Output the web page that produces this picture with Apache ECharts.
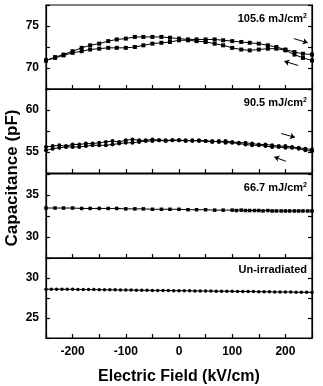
<!DOCTYPE html>
<html>
<head>
<meta charset="utf-8">
<script src="https://cdn.jsdelivr.net/npm/echarts@6/dist/echarts.min.js"></script>
<style>
  html, body { margin: 0; padding: 0; background: #fff; }
  #chart { width: 323px; height: 386px; }
</style>
</head>
<body>
<div id="chart"></div>
<script>
// x grids (kV/cm)
const fieldA = [-250,-233,-217,-200,-183,-167,-150,-133,-117,-100,-83,-67,-50,-33,-17,0,17,33,50,67,83,100,117,133,150,167,183,200,217,233,250];
const fieldB = [-250,-237.5,-225,-212.5,-200,-187.5,-175,-162.5,-150,-137.5,-125,-112.5,-100,-87.5,-75,-62.5,-50,-37.5,-25,-12.5,0,12.5,25,37.5,50,62.5,75,87.5,100,112.5,125,137.5,150,162.5,175,187.5,200,212.5,225,237.5,250];
const fieldC = [-250,-240,-230,-220,-210,-200,-190,-180,-170,-160,-150,-140,-130,-120,-110,-100,-90,-80,-70,-60,-50,-40,-30,-20,-10,0,10,20,30,40,50,60,70,80,90,100,110,120,130,140,150,160,170,180,190,200,210,220,230,240,250];
const field3back = [108,125,142,158,175,192,208,225,242];

// 105.6 mJ/cm2
const cap1Up = [70.9,71.3,71.6,72.0,72.4,72.7,72.9,73.2,73.4,73.5,73.7,73.7,73.7,73.7,73.6,73.5,73.4,73.4,73.4,73.4,73.3,73.2,73.1,73.0,72.9,72.7,72.5,72.2,71.9,71.7,71.6];
const cap1Down = [70.9,71.2,71.5,71.8,72.0,72.2,72.3,72.4,72.4,72.4,72.5,72.7,72.9,73.0,73.1,73.3,73.3,73.2,73.1,72.9,72.7,72.4,72.2,72.1,72.2,72.3,72.3,72.1,71.6,71.2,70.9];
// 90.5 mJ/cm2
const cap2Up = [55.6,55.7,55.8,55.7,55.9,55.9,56.0,56.0,56.1,56.2,56.3,56.2,56.4,56.5,56.4,56.4,56.5,56.4,56.4,56.4,56.4,56.4,56.3,56.4,56.3,56.3,56.2,56.3,56.2,56.1,56.1,56.0,55.9,55.9,55.8,55.7,55.7,55.6,55.5,55.4,55.3];
const cap2Down = [55.2,55.4,55.5,55.6,55.6,55.6,55.7,55.8,55.8,55.8,55.9,56.0,56.1,56.1,56.2,56.3,56.3,56.4,56.3,56.4,56.4,56.3,56.4,56.3,56.3,56.2,56.3,56.1,56.1,56.0,55.9,55.8,55.8,55.7,55.6,55.6,55.5,55.5,55.4,55.2,55.1];
// 66.7 mJ/cm2
const cap3Up = [33.45,33.45,33.45,33.45,33.4,33.4,33.4,33.4,33.4,33.35,33.35,33.35,33.3,33.3,33.3,33.3,33.25,33.25,33.25,33.2,33.2,33.2,33.2,33.15,33.15,33.15,33.1,33.1,33.1,33.1,33.1];
const cap3Down = [33.15,33.15,33.15,33.1,33.1,33.1,33.1,33.1,33.1];
// un-irradiated
const cap4 = [28.6,28.6,28.6,28.6,28.58,28.58,28.57,28.56,28.55,28.55,28.54,28.53,28.52,28.52,28.5,28.5,28.49,28.48,28.47,28.46,28.45,28.45,28.44,28.43,28.42,28.42,28.4,28.4,28.39,28.38,28.37,28.36,28.35,28.35,28.34,28.33,28.32,28.32,28.3,28.3,28.29,28.28,28.27,28.26,28.25,28.25,28.24,28.23,28.22,28.21,28.2];

const panelLabels = ['105.6 mJ/cm', '90.5 mJ/cm', '66.7 mJ/cm', 'Un-irradiated'];
const yMin = [67.5, 52.5, 27.5, 22.5];
const yMax = [77.5, 62.5, 37.5, 32.5];
// arrows [fromX, fromY, toX, toY]
const arrows1 = [[216,73.5,242,73.0],[224,70.3,198,70.8]];
const arrows2 = [[192,57.2,218,56.75],[201,53.9,179,54.4]];

function pairs(xs, ys){
  return xs.map((x,i)=>[x, ys[i]]);
}

const font = '"Liberation Sans", Arial, sans-serif';
const tops = [5, 89, 174, 258];
const grids = [], xAxes = [], yAxes = [], series = [];

for (let i = 0; i < 4; i++) {
  grids.push({left: 46, width: 266, top: tops[i], height: 84, show: true, borderColor: '#000', borderWidth: 1.2});
  const last = i === 3;
  xAxes.push({
    type: 'value', gridIndex: i, min: -250, max: 250, interval: 50,
    axisLine: {show: true, onZero: false, lineStyle: {color: '#000', width: 1.2}},
    axisTick: {show: true, inside: true, length: 4, lineStyle: {color: '#000', width: 1.2}},
    splitLine: {show: false},
    axisLabel: {
      show: last, margin: 8, color: '#000', fontFamily: font, fontWeight: 'bold', fontSize: 12,
      formatter: v => (v % 100 === 0 && Math.abs(v) < 250) ? String(v) : ''
    },
    name: last ? 'Electric Field (kV/cm)' : '',
    nameLocation: 'middle', nameGap: 31,
    nameTextStyle: {color: '#000', fontFamily: font, fontWeight: 'bold', fontSize: 16}
  });
  const yBase = {
    type: 'value', gridIndex: i, min: yMin[i], max: yMax[i], interval: 2.5,
    axisLine: {show: true, onZero: false, lineStyle: {color: '#000', width: 1.2}},
    axisTick: {show: true, inside: true, length: 4, lineStyle: {color: '#000', width: 1.2}},
    splitLine: {show: false}
  };
  yAxes.push(Object.assign({}, yBase, {
    position: 'left',
    axisLabel: {margin: 7, color: '#000', fontFamily: font, fontWeight: 'bold', fontSize: 12,
      formatter: v => v % 5 === 0 ? String(v) : ''}
  }));
  yAxes.push(Object.assign({}, yBase, {position: 'right', axisLabel: {show: false}}));
}

function dots(idx, data, symbol, size, extra){
  return Object.assign({
    type: 'line', xAxisIndex: idx, yAxisIndex: idx * 2, data: data,
    symbol: symbol, symbolSize: size, showSymbol: true,
    lineStyle: {color: '#000', width: 1}, itemStyle: {color: '#000'},
    animation: false, silent: true
  }, extra || {});
}

function arrowLines(list){
  return {
    silent: true, animation: false, symbol: ['none', 'arrow'], symbolSize: 5,
    lineStyle: {color: '#000', width: 1, type: 'solid'}, label: {show: false},
    data: list.map(a => [{coord: [a[0], a[1]]}, {coord: [a[2], a[3]]}])
  };
}

series.push(dots(0, pairs(fieldA, cap1Up), 'rect', 4, {markLine: arrowLines(arrows1)}));
series.push(dots(0, pairs(fieldA, cap1Down), 'rect', 4));
series.push(dots(1, pairs(fieldB, cap2Up), 'circle', 4, {markLine: arrowLines(arrows2)}));
series.push(dots(1, pairs(fieldB, cap2Down), 'circle', 4));
series.push(dots(2, pairs(fieldA, cap3Up), 'rect', 3.5));
series.push(dots(2, pairs(field3back, cap3Down), 'rect', 3.5, {lineStyle: {width: 0}}));
series.push(dots(3, pairs(fieldC, cap4), 'circle', 3.5));

const labelY = [19, 103, 188, 270];
const graphics = [{
  type: 'text', x: 12, y: 178, rotation: Math.PI / 2,
  style: {text: 'Capacitance (pF)', font: 'bold 17px ' + font, fill: '#000', align: 'center', verticalAlign: 'middle'}
}];
panelLabels.forEach((t, i) => {
  graphics.push({
    type: 'text', x: 307, y: labelY[i],
    style: {
      text: i < 3 ? '{a|' + t + '}{s|2}' : '{a|' + t + '}',
      align: 'right', verticalAlign: 'middle',
      rich: {
        a: {font: 'bold 11px ' + font, fill: '#000'},
        s: {font: 'bold 7px ' + font, fill: '#000', verticalAlign: 'top', padding: [0, 0, 6, 0]}
      }
    }
  });
});

const chart = echarts.init(document.getElementById('chart'));
chart.setOption({
  animation: false,
  backgroundColor: '#fff',
  grid: grids, xAxis: xAxes, yAxis: yAxes, series: series,
  graphic: graphics
});
</script>
</body>
</html>
